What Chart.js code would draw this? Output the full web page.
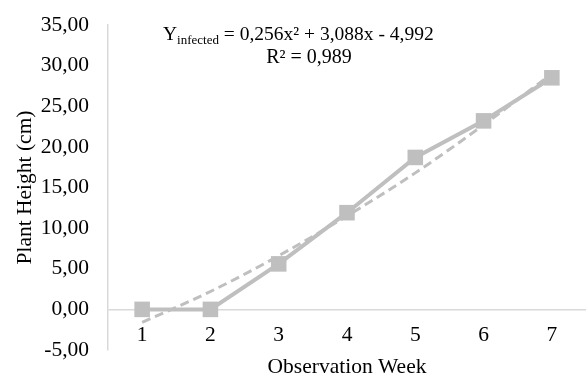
<!DOCTYPE html>
<html lang="en">
<head>
    <title>Plant Height Chart</title>
    <script src="https://cdn.jsdelivr.net/npm/chart.js"></script>
    <style>
        body { margin: 0; background: #fff; }
        .chart-container { position: relative; width: 586px; height: 376px; }
    </style>
</head>
<body>

<div class="chart-container">
    <canvas id="heightChart"></canvas>
</div>

<script>
    const weeks = ['1', '2', '3', '4', '5', '6', '7'];
    const heightInfected = [0, 0, 5.6, 11.9, 18.7, 23.2, 28.5];
    const trendInfected = [-1.6, 2.2, 6.6, 11.5, 16.8, 22.7, 29.0];
    const yTicks = [-5, 0, 5, 10, 15, 20, 25, 30, 35];

    const gray = '#BFBFBF';
    const axisGray = '#D9D9D9';
    const fontFamily = '"Liberation Serif", "Times New Roman", serif';
    const fontSize = 21.5;

    // equation + R² text like the Excel trendline label
    const equationLabel = {
        id: 'equationLabel',
        afterDraw(chart) {
            const ctx = chart.ctx;
            ctx.save();
            ctx.fillStyle = '#000';
            ctx.textBaseline = 'alphabetic';
            ctx.textAlign = 'left';
            let x = 163;
            const y = 40;
            ctx.font = '19.5px ' + fontFamily;
            ctx.fillText('Y', x, y);
            x += ctx.measureText('Y').width;
            ctx.font = '13px ' + fontFamily;
            ctx.fillText('infected', x, y + 4);
            x += ctx.measureText('infected').width;
            ctx.font = '19.5px ' + fontFamily;
            ctx.fillText(' = 0,256x\u00B2 + 3,088x - 4,992', x, y);
            ctx.textAlign = 'center';
            ctx.font = '20px ' + fontFamily;
            ctx.fillText('R\u00B2 = 0,989', 309, 63);
            ctx.restore();
        }
    };

    const ctx = document.getElementById('heightChart').getContext('2d');

    new Chart(ctx, {
        type: 'line',
        data: {
            labels: weeks,
            datasets: [
                {
                    label: 'Trendline',
                    data: trendInfected,
                    borderColor: gray,
                    borderWidth: 3,
                    borderDash: [9, 5],
                    pointRadius: 0,
                    cubicInterpolationMode: 'monotone',
                    fill: false
                },
                {
                    label: 'Infected',
                    data: heightInfected,
                    borderColor: gray,
                    borderWidth: 4,
                    pointStyle: 'rect',
                    pointRadius: 11,
                    pointBackgroundColor: gray,
                    pointBorderColor: gray,
                    pointBorderWidth: 0,
                    tension: 0,
                    fill: false
                }
            ]
        },
        options: {
            responsive: true,
            maintainAspectRatio: false,
            animation: false,
            layout: {
                autoPadding: false,
                padding: { top: 25, right: 0, left: 0, bottom: 26 }
            },
            scales: {
                x: {
                    type: 'category',
                    position: { y: 0 },
                    offset: true,
                    grid: { display: false, drawTicks: false },
                    border: { display: false },
                    ticks: {
                        color: '#000',
                        padding: 13,
                        font: { family: fontFamily, size: fontSize }
                    },
                    title: {
                        display: true,
                        text: 'Observation Week',
                        color: '#000',
                        padding: { top: 0, bottom: -44.5 },
                        font: { family: fontFamily, size: fontSize }
                    },
                    afterFit: scale => {
                        scale.height = 26;
                        scale.paddingLeft = 0;
                        scale.paddingRight = 0;
                    }
                },
                y: {
                    min: -5,
                    max: 35,
                    afterBuildTicks: scale => {
                        scale.ticks = yTicks.map(v => ({ value: v }));
                    },
                    grid: {
                        drawTicks: false,
                        color: c => (c.tick && c.tick.value === 0) ? axisGray : 'transparent',
                        lineWidth: 1.5
                    },
                    border: { display: true, color: axisGray, width: 1.5 },
                    ticks: {
                        color: '#000',
                        padding: 19,
                        font: { family: fontFamily, size: fontSize },
                        callback: v => v.toFixed(2).replace('.', ',')
                    },
                    title: {
                        display: true,
                        text: 'Plant Height (cm)',
                        color: '#000',
                        padding: { top: 12, bottom: 0 },
                        font: { family: fontFamily, size: fontSize }
                    },
                    afterFit: scale => {
                        scale.width = 108;
                        scale.paddingTop = 0;
                        scale.paddingBottom = 0;
                    }
                }
            },
            plugins: {
                legend: { display: false },
                tooltip: { enabled: false }
            }
        },
        plugins: [equationLabel]
    });
</script>

</body>
</html>
